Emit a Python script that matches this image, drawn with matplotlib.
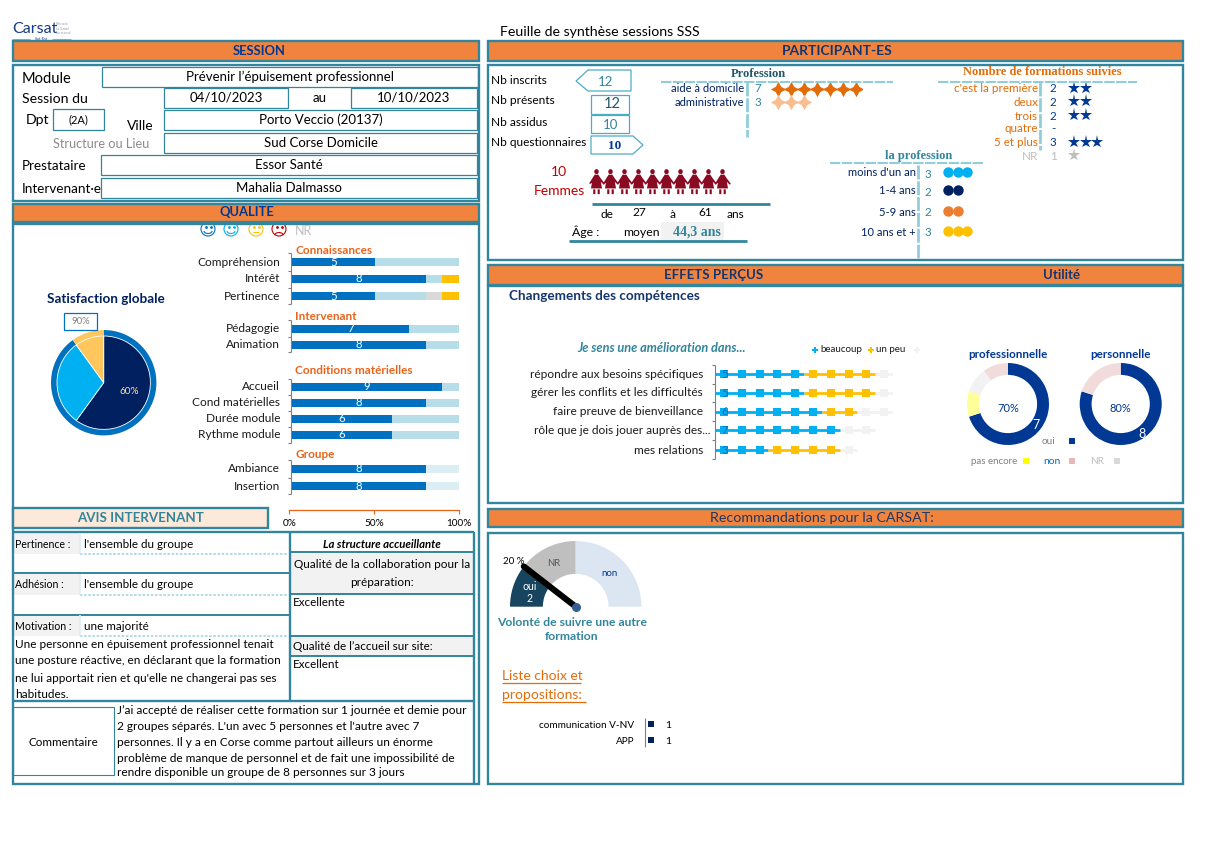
import numpy as np
import matplotlib
matplotlib.use('Agg')
import matplotlib.pyplot as plt
from matplotlib.patches import Rectangle, Circle, Arc, Polygon
from matplotlib.path import Path

plt.rcParams['font.family'] = ['Lato', 'DejaVu Sans']
W, H = 1205, 852
TEAL = '#31859C'; ORANGE = '#F0843F'; NAVY = '#002060'; BLUE = '#003893'; MID = '#0070C0'
SKY = '#00B0F0'; GOLD = '#FFC000'; ROUGE = '#E36C09'; PALE = '#92CDDC'

# ---------- data ----------
quality_labels = ['Compréhension', 'Intérêt', 'Pertinence', 'Pédagogie', 'Animation', 'Accueil',
                  'Cond matérielles', 'Durée module', 'Rythme module', 'Ambiance', 'Insertion']
q_tres = [5, 8, 5, 7, 8, 9, 8, 6, 6, 8, 8]
q_satis = [5, 1, 3, 3, 2, 1, 2, 4, 4, 2, 2]
q_nr = [0, 0, 1, 0, 0, 0, 0, 0, 0, 0, 0]
q_peu = [0, 1, 1, 0, 0, 0, 0, 0, 0, 0, 0]
satisf_global = [6, 3, 1]
satisf_ring = [9, 1]
prof_labels = ['aide à domicile', 'administrative']
prof_counts = [7, 3]
form_labels = ["c'est la première", 'deux', 'trois', 'quatre', '5 et plus', 'NR']
form_counts = [2, 2, 2, 0, 3, 1]
anc_labels = ["moins d'un an", '1-4 ans', '5-9 ans', '10 ans et +']
anc_counts = [3, 2, 2, 3]
femmes = 10
eff_labels = ['répondre aux besoins spécifiques', 'gérer les conflits et les difficultés',
              'faire preuve de bienveillance', 'rôle que je dois jouer auprès des...', 'mes relations']
eff_beaucoup = [5, 5, 6, 7, 3]
eff_peu = [4, 4, 2, 0, 4]
eff_reste = [1, 1, 2, 2, 1]
util_pro = [7, 1, 1, 1]
util_perso = [8, 0, 0, 2]
gauge_vals = [2, 3, 5]
choix_labels = ['communication V-NV', 'APP']
choix_vals = [1, 1]

fig = plt.figure(figsize=(W / 100, H / 100), dpi=100, facecolor='white')
page = fig.add_axes([0, 0, 1, 1])
page.set_xlim(0, W); page.set_ylim(H, 0); page.axis('off')
page.set_zorder(10)


def T(x, y, s, size=9, color='black', ha='left', va='center', ax=page, **kw):
    return ax.text(x, y, s, fontsize=size, color=color, ha=ha, va=va, **kw)


def R(x0, y0, x1, y1, fc='none', ec='none', lw=0, z=2):
    page.add_patch(Rectangle((x0, y0), x1 - x0, y1 - y0, fc=fc, ec=ec, lw=lw, zorder=z))


def L(xs, ys, color=TEAL, lw=1.5, z=3, **kw):
    page.plot(xs, ys, color=color, lw=lw, zorder=z, solid_capstyle='butt', **kw)


def sub(x0, y0, x1, y1):
    a = fig.add_axes([x0 / W, 1 - y1 / H, (x1 - x0) / W, (y1 - y0) / H])
    a.patch.set_alpha(0)
    a.axis('off')
    return a


def circ(cx, cy, r):
    return sub(cx - r * 1.03, cy - r * 1.03, cx + r * 1.03, cy + r * 1.03)


def lims(a):
    a.set_xlim(-1.03, 1.03); a.set_ylim(-1.03, 1.03)


def header(x0, y0, x1, y1):
    R(x0, y0, x1, y1, fc=ORANGE, ec=TEAL, lw=1.7, z=4)


def frame(x0, y0, x1, y1, lw=1.7):
    R(x0, y0, x1, y1, ec=TEAL, lw=lw, z=3)


def field(x0, y0, x1, y1, s, size=9):
    R(x0, y0, x1, y1, ec=TEAL, lw=0.9)
    T((x0 + x1) / 2, (y0 + y1) / 2, s, size, ha='center')


# ---------- frames ----------
header(13, 41, 479, 61); frame(13, 65, 479, 201); header(13, 204, 479, 222)
frame(13, 224, 479, 784)
header(488, 41, 1183, 61); frame(488, 65, 1183, 260); header(488, 265, 1183, 285)
frame(488, 286, 1183, 503); header(488, 509, 1183, 527); frame(488, 533, 1183, 784)

hb = dict(weight='bold', zorder=6)
T(259, 51, 'SESSION', 9.4, BLUE, ha='center', **hb)
T(247, 212, 'QUALITE', 9.4, BLUE, ha='center', **hb)
T(837, 51, 'PARTICIPANT-ES', 10, '#14356E', ha='center', **hb)
T(714, 275, 'EFFETS PERÇUS', 9.5, '#14356E', ha='center', **hb)
T(1061, 275, 'Utilité', 9.5, '#14356E', ha='center', **hb)
T(822, 518, 'Recommandations pour la CARSAT:', 10.3, '#1F3864', ha='center', zorder=6)
T(500, 32, 'Feuille de synthèse sessions SSS', 10.2)

# logo
T(12, 29, 'Carsat', 11.6, '#143C82')
T(56, 28.5, 'Retraite\net Santé\nau travail', 2.6, '#9A9AB5', linespacing=1.15)
L([12, 30], [38.5, 38.5], ORANGE, 0.6); L([52, 71], [38.5, 38.5], ORANGE, 0.6)
T(41, 38.5, 'Sud-Est', 2.8, '#143C82', ha='center')

# ---------- session ----------
T(22, 79, 'Module', 10.5); T(22, 99, 'Session du', 10.2); T(26, 120, 'Dpt', 10.2)
T(127, 126, 'Ville', 10); T(53, 144, 'Structure ou Lieu', 9.2, '#8C8C8C')
T(22, 166, 'Prestataire', 9.7); T(22, 189, 'Intervenant·e', 9.7)
field(102, 67, 478, 87, 'Prévenir l’épuisement professionnel', 9.5)
field(164, 88, 288, 108, '04/10/2023', 9.5)
T(320, 98, 'au', 9.5, ha='center')
field(351, 88, 477, 108, '10/10/2023', 9.5)
field(53, 109, 104, 130, '(2A)', 8)
field(164, 110, 477, 130, 'Porto Veccio (20137)', 9.5)
field(164, 133, 477, 153, 'Sud Corse Domicile', 9.5)
field(101, 155, 477, 175, 'Essor Santé', 9.5)
field(101, 178, 477, 198, 'Mahalia Dalmasso', 9.5)

# ---------- quality ----------
for x, c, kind in zip([208, 231, 256, 279], [MID, SKY, GOLD, '#C00000'], [2, 1, 0, -1]):
    page.add_patch(Circle((x, 229), 7, fc='white', ec=c, lw=0.8, zorder=2))
    page.plot([x - 2.5, x + 2.5], [227, 227], ls='none', marker='.', ms=2, color=c, zorder=2)
    if kind == 0:
        L([x - 3, x + 3], [232, 232], c, 0.8, z=2)
    else:
        yc = 231 if kind > 0 else 235
        page.add_patch(Arc((x, yc), 8, 5, theta1=0 if kind > 0 else 180, theta2=180 if kind > 0 else 360,
                           ec=c, lw=0.8, zorder=2))
T(303, 231, 'NR', 9, '#BFBFBF', ha='center')

qy = [262.3, 279, 296, 329, 345, 387, 403, 419, 435, 469, 486]
qa = sub(291.7, 250, 459, 500)
qa.set_xlim(0, 10); qa.set_ylim(500, 250)
qt = np.array(q_tres); qs = np.array(q_satis); qn = np.array(q_nr); qp = np.array(q_peu)
sat_cols = ['#B7DDE8'] * 9 + ['#DAEEF3'] * 2
qa.barh(qy, qt, height=8, color=MID)
qa.barh(qy, qs, left=qt, height=8, color=sat_cols)
qa.barh(qy, qn, left=qt + qs, height=8, color='#D9D9D9')
qa.barh(qy, qp, left=qt + qs + qn, height=8, color=GOLD)
for y, v, lab in zip(qy, qt, quality_labels):
    T(v / 2, y, str(v), 8.2, 'white', ha='center', ax=qa)
    T(280, y, lab, 8.6, '#1a1a1a', ha='right')
for ys in ([253, 271, 288, 304], [320, 337, 352], [379, 395, 411, 427, 443], [460, 478, 494]):
    L([291, 291], [ys[0], ys[-1]], '#7F7F7F', 0.8)
    for y in ys:
        L([288, 291], [y, y], '#7F7F7F', 0.8)
for y, s in zip([251, 317, 370, 455], ['Connaissances', 'Intervenant', 'Conditions matérielles', 'Groupe']):
    T(295, y, s, 8.5, '#E8641B', weight='bold')

ax100 = sub(289.3, 510, 459.3, 516)
ax100.axis('on')
ax100.set_xlim(0, 100); ax100.set_ylim(0, 1)
for k, sp in ax100.spines.items():
    sp.set_visible(k == 'top'); sp.set_color('#E8641B'); sp.set_linewidth(0.9)
ax100.set_yticks([])
ax100.xaxis.tick_top()
ax100.set_xticks([0, 50, 100], ['', '', ''])
ax100.tick_params(axis='x', direction='in', length=3, color='#E8641B', width=0.8)
for v in (0, 50, 100):
    T(v, -1.3, f'{v}%', 7.2, ha='center', ax=ax100, clip_on=False)

# satisfaction pie
T(106, 299, 'Satisfaction globale', 9.7, NAVY, ha='center', weight='bold')
outer = circ(103.7, 382.7, 52.7)
outer.pie(satisf_ring, colors=[MID, '#FFC65E'], startangle=90, counterclock=False, radius=1)
lims(outer)
inner = circ(103.7, 382.7, 46.7)
inner.pie(satisf_global, colors=[NAVY, SKY, '#FFC65E'], startangle=90, counterclock=False, radius=1,
          wedgeprops=dict(ec='white', lw=0.6))
lims(inner)
T(129, 392, f'{satisf_global[0] * 10}%', 7.2, '#FFE0A8', ha='center', zorder=8)
R(64, 313, 97, 330, fc='white', ec=MID, lw=0.9)
T(80.5, 322, f'{satisf_ring[0] * 10}%', 6.8, '#7F7F7F', ha='center')

# ---------- avis ----------
R(13, 508, 268, 528, fc='#FDE9D9', ec=TEAL, lw=1.7, z=4)
T(141, 518, 'AVIS INTERVENANT', 9.6, TEAL, ha='center', weight='bold', zorder=6)
L([13, 474], [532, 532], lw=1.7); L([290, 290], [532, 701], lw=1.7); L([474, 474], [532, 784], lw=1.7)
L([13, 290], [573, 573], lw=1.4); L([13, 290], [615, 615], lw=1.4); L([13, 474], [701, 701], lw=1.7)
for y in (552, 594, 636, 656):
    L([290, 474], [y, y], lw=1.4)
R(291, 553, 473, 593, fc='#F2F2F2', z=1); R(291, 637, 473, 655, fc='#F2F2F2', z=1)
for y, lab, val in zip([544, 585, 626], ['Pertinence :', 'Adhésion :', 'Motivation :'],
                       ["l'ensemble du groupe", "l'ensemble du groupe", 'une majorité']):
    R(14, y - 11, 80, y + 10, fc='#F2F2F2', z=1)
    T(15, y, lab, 7.6)
    T(84, y, val, 8.4)
    L([80, 288], [y + 10, y + 10], '#A5D5E2', 1.2, ls=(0, (1.5, 1)))
    L([80, 80], [y - 11, y + 10], '#DAEEF3', 1.2)
for y, s in zip([644, 661, 678, 695], ['Une personne en épuisement professionnel tenait',
                                       'une posture réactive, en déclarant que la formation',
                                       "ne lui apportait rien et qu'elle ne changerai pas ses", 'habitudes.']):
    T(15, y, s, 8.5)
T(382, 544, 'La structure accueillante', 8.2, ha='center', weight='bold', style='italic')
T(382, 565, 'Qualité de la collaboration pour la', 8.5, ha='center')
T(382, 582, 'préparation:', 8.5, ha='center')
T(293, 603, 'Excellente', 8.4); T(293, 646, 'Qualité de l’accueil sur site:', 8.4); T(293, 665, 'Excellent', 8.4)
R(13, 707, 114, 775, ec=TEAL, lw=0.8)
T(63, 742, 'Commentaire', 8.4, ha='center')
for y, s in zip([711, 726, 742, 758, 773],
                ['J’ai accepté de réaliser cette formation sur 1 journée et demie pour',
                 "2 groupes séparés. L'un avec 5 personnes et l'autre avec 7",
                 'personnes. Il y a en Corse comme partout ailleurs un énorme',
                 'problème de manque de personnel et de fait une impossibilité de',
                 'rendre disponible un groupe de 8 personnes sur 3 jours']):
    T(117, y, s, 8.55)

# ---------- participants ----------
for y, s in zip([80, 100, 122, 143], ['Nb inscrits', 'Nb présents', 'Nb assidus', 'Nb questionnaires']):
    T(491, y, s, 8.6)
page.add_patch(Polygon([(576, 81), (588, 70), (631, 70), (631, 91), (588, 91)], fc='white', ec='#4BACC6', lw=0.9))
R(591, 95, 629, 114, ec='#4BACC6', lw=0.9); R(591, 115, 629, 133, ec='#4BACC6', lw=0.9)
page.add_patch(Polygon([(591, 136), (633, 136), (643, 145), (633, 154), (591, 154)], fc='white', ec='#4BACC6', lw=0.9))
T(606, 82, '12', 9.5, TEAL, ha='center'); T(612, 104, '12', 10.5, '#215968', ha='center')
T(611, 125, '10', 9.5, TEAL, ha='center')
T(615, 146, '10', 9.5, BLUE, ha='center', weight='bold', family='Liberation Serif')

T(559, 172, str(femmes), 10, '#C00000', ha='center'); T(559, 191, 'Femmes', 10, '#C00000', ha='center')
th = np.linspace(0, 2 * np.pi, 24)
head = Path(np.c_[0.18 * np.cos(th), 0.78 + 0.2 * np.sin(th)])
body = Path([(-0.14, 0.55), (0.14, 0.55), (0.3, 0.3), (0.66, -0.18), (0.58, -0.26), (0.34, -0.02),
             (0.44, -0.55), (-0.44, -0.55), (-0.36, -0.1), (-0.5, -0.2), (-0.58, -0.14), (-0.3, 0.3), (-0.14, 0.55)])
leg1 = Path([(-0.26, -0.62), (-0.09, -0.62), (-0.09, -1), (-0.26, -1), (-0.26, -0.62)])
leg2 = Path([(0.09, -0.62), (0.26, -0.62), (0.26, -1), (0.09, -1), (0.09, -0.62)])
woman = Path.make_compound_path(head, body, leg1, leg2)
wa = sub(589, 165, 739, 196)
wa.set_xlim(-0.5, 10.21); wa.set_ylim(0, 1)
wa.scatter(np.arange(femmes), [0.5] * femmes, marker=woman, s=330, color='#8B0A23', lw=0)

L([592, 770], [204, 204], lw=2); L([569, 747], [241, 241], lw=2)
for x, y, s in [(607, 214, 'de'), (639, 213, '27'), (673, 214, 'à'), (705, 213, '61'), (735, 214, 'ans')]:
    T(x, y, s, 8.6, ha='center')
T(572, 232, 'Âge :', 8.8); T(641, 232, 'moyen', 8.8, ha='center')
R(661, 222, 724, 241, fc='#F2F2F2', z=1)
T(697, 232, '44,3 ans', 10, TEAL, ha='center', weight='bold', family='Liberation Serif')

dash = dict(ls=(0, (5, 0.7)))
# profession
T(758, 74, 'Profession', 9, '#215968', ha='center', weight='bold', family='Liberation Serif')
L([661, 893], [82, 82], PALE, 1.5, **dash); L([747, 747], [82, 137], PALE, 2, **dash)
pa = sub(771.5, 82, 862.5, 109)
pa.set_xlim(-0.5, 6.5); pa.set_ylim(109, 82)
for y, lab, n, c in zip([89, 102], prof_labels, prof_counts, [ROUGE, '#F9BE8F']):
    T(744, y, lab, 8, NAVY, ha='right'); T(758, y, str(n), 8.4, TEAL, ha='center')
    pa.plot(np.arange(n), [y] * n, ls='-', lw=1, color=c, marker=(4, 1, 0), ms=11, mew=0)
    pa.plot(np.arange(n), [y] * n, ls='none', color=c, marker='o', ms=4, mew=0)

# formations
T(1042, 72, 'Nombre de formations suivies', 8.9, ROUGE, ha='center', weight='bold', family='Liberation Serif')
L([938, 1137], [82, 82], PALE, 1.5, **dash); L([1040, 1040], [82, 150], PALE, 2, **dash)
fa = sub(1068, 82, 1103, 163)
fa.set_xlim(-0.5, 2.5); fa.set_ylim(163, 82)
for i, (y, lab, n) in enumerate(zip([89, 102, 116, 129, 143, 156], form_labels, form_counts)):
    gray = lab == 'NR'
    T(1038, y, lab, 8.4, '#BFBFBF' if gray else ROUGE, ha='right')
    T(1053, y, str(n) if n else '-', 8.4, '#BFBFBF' if gray else BLUE, ha='center')
    fa.plot(np.arange(n), [y - 1] * n, ls='none', marker='*', ms=9.5, mew=0, color='#BFBFBF' if gray else BLUE)

# anciennete
T(919, 156, 'la profession', 9, TEAL, ha='center', weight='bold', family='Liberation Serif')
L([830, 984], [163, 163], PALE, 1.5, **dash); L([918, 918], [165, 258], PALE, 2, **dash)
aa = sub(943, 165, 972, 240)
aa.set_xlim(-0.5, 2.5); aa.set_ylim(240, 165)
for y, lab, n, c in zip([173, 191, 212, 232], anc_labels, anc_counts, [SKY, NAVY, '#ED7D31', GOLD]):
    T(916, y, lab, 8, NAVY, ha='right'); T(928, y + 1, str(n), 8.4, TEAL, ha='center')
    aa.plot(np.arange(n), [y - 1] * n, ls='none', marker='o', ms=7.5, mew=0, color=c)

# ---------- effets ----------
T(509, 296, 'Changements des compétences', 9.7, '#14356E', weight='bold')
T(661, 348, 'Je sens une amélioration dans...', 9.2, TEAL, ha='center', weight='bold', style='italic')
ey = [374, 393, 411.5, 430, 450]
ea = sub(715, 360, 893, 465)
ea.set_xlim(0, 10); ea.set_ylim(465, 360)
for y, lab, a, b, c in zip(ey, eff_labels, eff_beaucoup, eff_peu, eff_reste):
    T(711 if lab.endswith('...') else 703, y, lab, 8.55, '#1a1a1a', ha='right')
    for start, n, col, z in [(0, a, SKY, 3), (a, b, GOLD, 3), (a + b, c, '#F2F2F2', 2)]:
        if n:
            xs = np.arange(start, start + n) + 0.5
            ea.plot([start, start + n], [y, y], color=col, lw=2, zorder=z, solid_capstyle='butt')
            ea.plot(xs, [y] * n, ls='none', marker='s', ms=5.5, mew=0, color=col, zorder=z)
    T(0.55, y, str(a), 8.2, MID, ha='center', ax=ea, zorder=5)
L([715, 715], [365, 459], '#7F7F7F', 0.8)
for y in (365, 384, 402, 421, 440, 459):
    L([712, 715], [y, y], '#7F7F7F', 0.8)
for x, c, s in [(815, SKY, 'beaucoup'), (871, GOLD, 'un peu'), (917, '#F2F2F2', '')]:
    page.plot([x], [350], marker='P', ms=5, mew=0, color=c)
    T(x + 5, 350, s, 7, '#1a1a1a')

for cx, vals, pct, title, tx, ty in [(1008, util_pro, '70%', 'professionnelle', 1036, 425),
                                     (1120.7, util_perso, '80%', 'personnelle', 1142, 434)]:
    d = circ(cx, 404, 41)
    d.pie(vals, colors=[BLUE, '#FFFF99', '#F2F2F2', '#F2DCDB'], startangle=90, counterclock=False, radius=1,
          wedgeprops=dict(width=0.29))
    lims(d)
    T(cx, 408, pct, 8, BLUE, ha='center')
    T(cx, 354, title, 8.4, BLUE, ha='center', weight='bold')
    T(tx, ty, str(vals[0]), 9, 'white', ha='center', zorder=8)
T(1048, 441, 'oui', 7.2, '#7F7F7F', ha='center'); R(1069, 438, 1075, 444, fc=BLUE)
T(971, 461, 'pas encore', 7, '#7F7F7F')
R(1023, 458, 1029, 464, fc='#FFFF00')
T(1052, 461, 'non', 7.5, MID, ha='center'); R(1069, 458, 1075, 464, fc='#E6B8B7')
T(1097, 461, 'NR', 7.2, '#BFBFBF', ha='center'); R(1114, 458, 1120, 464, fc='#D9D9D9')

# ---------- gauge ----------
cx, cy, rg = 575.7, 606.7, 65.7
g = circ(cx, cy, rg)
g.pie(gauge_vals + [sum(gauge_vals)], colors=['#17455F', '#BFBFBF', '#DCE6F2', 'none'], startangle=180,
      counterclock=False, radius=1, wedgeprops=dict(width=0.5))
lims(g)
ang = np.pi * (1 - gauge_vals[0] / sum(gauge_vals) * 1.05)
g.plot([0, np.cos(ang)], [0, np.sin(ang)], color='black', lw=4.4, solid_capstyle='round', zorder=5)
g.plot([0], [0], marker='o', ms=6.5, mew=0, color='#355E91', zorder=6, clip_on=False)
T(514, 561, f'{gauge_vals[0] * 10} %', 7, 'black', ha='center', zorder=8)
T(530, 586, 'oui', 7.6, 'white', ha='center', zorder=8); T(530, 598, str(gauge_vals[0]), 7.6, 'white', ha='center', zorder=8)
T(554, 564, 'NR', 6.8, '#595959', ha='center', zorder=8); T(610, 573, 'non', 7, BLUE, ha='center', zorder=8)
T(572, 622, 'Volonté de suivre une autre', 8.7, TEAL, ha='center', weight='bold')
T(572, 637, 'formation', 8.7, TEAL, ha='center', weight='bold')
T(502, 676, 'Liste choix et', 10, ROUGE); L([502, 581], [683, 683], ROUGE, 0.9)
T(502, 695, 'propositions:', 10, ROUGE); L([502, 586], [702, 702], ROUGE, 0.9)
ca = sub(645, 716, 680, 750)
ca.set_xlim(0, 2); ca.set_ylim(750, 716)
for y, lab, v in zip([725, 741], choix_labels, choix_vals):
    T(634, y, lab, 7.2, 'black', ha='right')
    ca.plot([v * 0.35], [y - 1], ls='none', marker='s', ms=4.2, mew=0, color=NAVY)
    T(668, y + 1, str(v), 7.5, 'black', ha='center')
L([645, 645], [718, 747], '#7F7F7F', 0.8)

fig.savefig('out.png', dpi=100, facecolor='white')
